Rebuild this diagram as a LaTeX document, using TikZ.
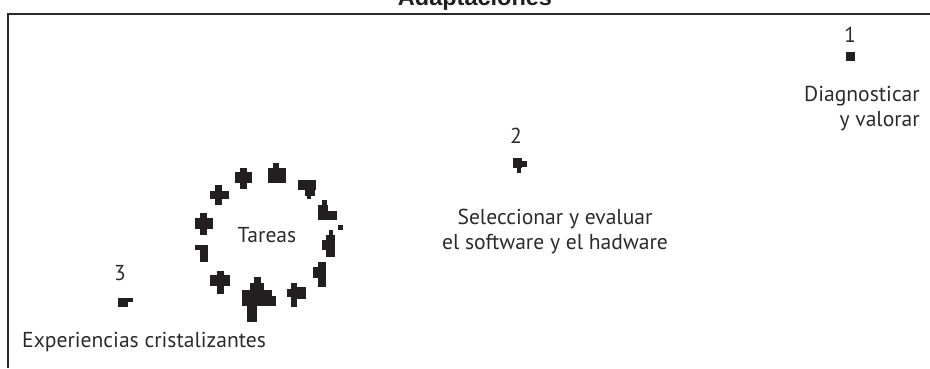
\documentclass[tikz,border=0pt]{standalone}
\usepackage{fontspec}
\setmainfont{PT Sans}
\newfontfamily\titlefont{Liberation Sans}
\definecolor{ink}{HTML}{231F20}
\definecolor{txt}{HTML}{2B2B2B}
\begin{document}
\begin{tikzpicture}[x=1pt,y=-1pt,
  lbl/.style={text=txt,font=\fontsize{21.6}{25}\selectfont,inner sep=0pt,anchor=base},
  frame/.style={draw=txt,line width=2pt},
  blob/.style={fill=ink}]
\useasboundingbox (0,0) rectangle (930,368);
\begin{scope}
\clip (0,0) rectangle (930,368);
\node[text=ink,font=\titlefont\bfseries\fontsize{23.5}{26}\selectfont,inner sep=0pt,anchor=base] (title) at (475,5) {Adaptaciones};
\end{scope}
% frame
\coordinate (tl) at (8,14);
\coordinate (tr) at (930,14);
\coordinate (bl) at (8,368);
\draw[frame] (bl) -- (tl) -- (tr);
% labels
\node[lbl] (n1) at (850,42) {1};
\node[lbl,align=right,anchor=north east] (diag) at (920,86.5) {Diagnosticar\\y valorar};
\node[lbl] (n2) at (516,143) {2};
\node[lbl,align=center,anchor=north] (sel) at (555,209) {Seleccionar y evaluar\\el software y el hadware};
\node[lbl] (n3) at (120,280) {3};
\node[lbl,anchor=base west] (exp) at (22,347) {Experiencias cristalizantes};
\node[lbl] (tareas) at (267,242) {Tareas};
% markers
\fill[blob] (846,52) rectangle (855,61);
\fill[blob] (513,158) rectangle (522,168);
\fill[blob] (522,161) rectangle (527,167);
\fill[blob] (517,168) rectangle (521,173);
\fill[blob] (118,298) rectangle (133,302);
\fill[blob] (118,302) rectangle (128,307);
% blobs around Tareas
% 1
\fill[blob] (215,185) rectangle (222,205);
\fill[blob] (210,191) rectangle (229,199);
% 2
\fill[blob] (235,172) rectangle (252,183);
\fill[blob] (240,168) rectangle (247,189);
% 3
\fill[blob] (268,168) rectangle (286,183);
\fill[blob] (273,163) rectangle (279,168);
% 4
\fill[blob] (298,180) rectangle (316,190);
\fill[blob] (305,190) rectangle (315,196);
\fill[blob] (307,196) rectangle (311,199);
% 5
\fill[blob] (318,205) rectangle (328,220);
\fill[blob] (322,200) rectangle (327,205);
\fill[blob] (327,211) rectangle (337,220);
% 6 dot
\fill[blob] (338,225) rectangle (343,230);
% 7
\fill[blob] (326,235) rectangle (335,257);
\fill[blob] (329,230) rectangle (333,235);
\fill[blob] (322,240) rectangle (326,250);
% 8
\fill[blob] (318,262) rectangle (326,287);
\fill[blob] (313,267) rectangle (318,278);
% 9
\fill[blob] (291,283) rectangle (297,307);
\fill[blob] (297,287) rectangle (306,299);
\fill[blob] (287,289) rectangle (291,297);
% 10 big
\fill[blob] (242,290) rectangle (272,306);
\fill[blob] (250,283) rectangle (264,292);
\fill[blob] (254,277) rectangle (261,283);
\fill[blob] (247,306) rectangle (257,322);
\fill[blob] (262,296) rectangle (276,306);
% 11
\fill[blob] (210,275) rectangle (230,286);
\fill[blob] (217,271) rectangle (224,294);
% 12
\fill[blob] (195,245) rectangle (208,250);
\fill[blob] (200,250) rectangle (208,262);
% 13
\fill[blob] (195,218) rectangle (213,229);
\fill[blob] (200,213) rectangle (207,235);
\end{tikzpicture}
\end{document}
